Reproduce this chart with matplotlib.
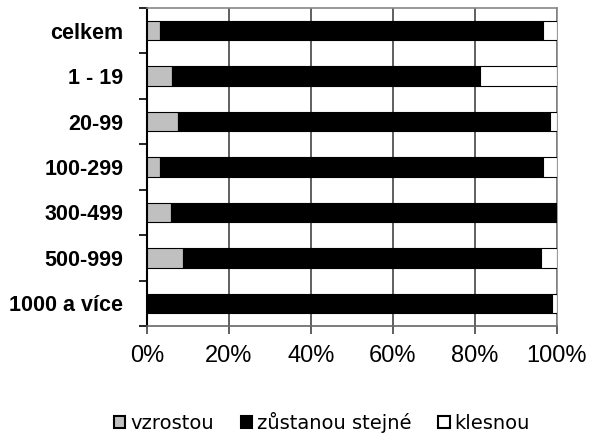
import matplotlib
matplotlib.use("Agg")
import matplotlib.pyplot as plt
import numpy as np

categories = ["celkem", "1 - 19", "20-99", "100-299", "300-499", "500-999", "1000 a více"]
vzrostou = [3.2, 6.2, 7.5, 3.2, 5.9, 8.7, 0.0]
klesnou = [3.4, 18.8, 1.7, 3.4, 0.0, 3.9, 1.1]
stejne = [100 - a - b for a, b in zip(vzrostou, klesnou)]
series_names = ["vzrostou", "zůstanou stejné", "klesnou"]
colors = ["#c0c0c0", "#000000", "#ffffff"]
xticks = [0, 20, 40, 60, 80, 100]
xticklabels = ["0%", "20%", "40%", "60%", "80%", "100%"]

plt.rcParams['font.family'] = ['Liberation Sans', 'DejaVu Sans']
fig = plt.figure(figsize=(5.89, 4.36), dpi=100)
ax = fig.add_axes([147/589, 1-326/436, (557-147)/589, (326-8)/436])

y = np.arange(len(categories))
left = np.zeros(len(categories))
for vals, name, c in zip([vzrostou, stejne, klesnou], series_names, colors):
    ax.barh(y, vals, left=left, height=0.43, color=c, edgecolor="black",
            linewidth=0.8, label=name, zorder=3)
    left += np.array(vals)

ax.set_xlim(0, 100)
ax.set_ylim(len(categories) - 0.5, -0.5)
ax.set_xticks(xticks)
ax.set_xticklabels(xticklabels, fontsize=17)
ax.set_yticks(y)
ax.set_yticklabels(categories, fontsize=15.5, fontweight="bold")
ax.set_yticks(np.arange(-0.5, len(categories), 1), minor=True)
ax.tick_params(axis="y", which="major", length=0, pad=17)
ax.tick_params(axis="y", which="minor", length=6, width=1.2, color="black", direction="out")
ax.tick_params(axis="x", length=6, width=1.2, color="#444444", direction="out", pad=8)
ax.grid(axis="x", color="#444444", linewidth=1.2, zorder=0)
for s in ["top", "right"]:
    ax.spines[s].set_color("#888888")
    ax.spines[s].set_linewidth(1.2)
ax.spines["bottom"].set_color("#666666")
ax.spines["bottom"].set_linewidth(1.2)
ax.spines["left"].set_color("black")
ax.spines["left"].set_linewidth(1.5)

leg = fig.legend(loc="center", bbox_to_anchor=(322/589, 1-422/436), ncol=3, frameon=False,
                 prop={"family": "DejaVu Sans", "size": 14}, handlelength=0.57,
                 handleheight=0.57, handletextpad=0.26, columnspacing=1.39)
for h in leg.legend_handles:
    h.set_linewidth(1.5)

fig.savefig("out.png", dpi=100)
